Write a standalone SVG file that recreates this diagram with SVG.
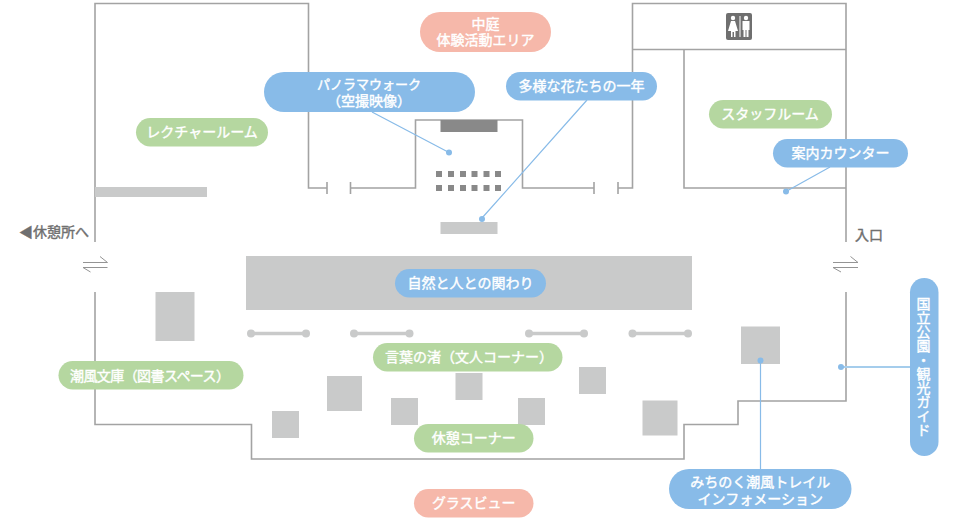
<svg xmlns="http://www.w3.org/2000/svg" width="960" height="520" viewBox="0 0 960 520">
<defs><style>
.w{fill:none;stroke:#a3a3a3;stroke-width:1.6}
.g{fill:#c9caca}
.d{fill:#898989}
.r{fill:none;stroke:#c9caca;stroke-width:3.5}
.a{fill:none;stroke:#949494;stroke-width:1}
.l{fill:none;stroke:#88bbe8;stroke-width:1.2}
.t{fill:none;stroke:#a5cdec;stroke-width:2}
.p{fill:#88bbe8}
.b{fill:#88bbe8}.n{fill:#b5d7a0}.s{fill:#f6b8aa}
text{font-family:"Noto Sans CJK JP","Liberation Sans",sans-serif;font-weight:400;font-size:14px;fill:#fff;stroke:#fff;stroke-width:.4px;text-anchor:middle}
.k{fill:#6f6f6f;stroke:#6f6f6f;text-anchor:start}
</style></defs>
<rect width="960" height="520" fill="#fff"/>
<g id="plan">
<path class="w" d="M95 242V3.500H308.500V188H327M327 182V194M350.500 182V194M350.500 188H415.500V120H522.500V188H594M594 182V194M618 182V194M618 188H632.500V3.500H846V242"/>
<path class="w" d="M632.500 49.500H846M684 49.500V188H846"/>
<path class="w" d="M95 292V424.500H251.500V459H684V424.500H738V401H846V292"/>
<rect class="g" x="95" y="187" width="112" height="10"/>
<rect class="d" x="440.500" y="120" width="57" height="12"/>
<rect class="g" x="440.500" y="222" width="57" height="12"/>
<g class="d">
<rect x="436" y="171" width="6" height="6"/><rect x="448" y="171" width="6" height="6"/><rect x="460" y="171" width="6" height="6"/><rect x="471.500" y="171" width="6" height="6"/><rect x="483.500" y="171" width="6" height="6"/><rect x="495" y="171" width="6" height="6"/>
<rect x="436" y="185" width="6" height="6"/><rect x="448" y="185" width="6" height="6"/><rect x="460" y="185" width="6" height="6"/><rect x="471.500" y="185" width="6" height="6"/><rect x="483.500" y="185" width="6" height="6"/><rect x="495" y="185" width="6" height="6"/>
</g>
<rect class="g" x="246" y="256" width="446" height="54"/>
<rect class="g" x="155.500" y="292" width="39" height="49"/>
<rect class="g" x="272" y="411" width="27" height="27"/>
<rect class="g" x="327" y="376" width="35" height="35"/>
<rect class="g" x="391" y="398" width="27" height="27"/>
<rect class="g" x="455.500" y="373" width="27" height="27"/>
<rect class="g" x="518" y="398" width="27" height="27"/>
<rect class="g" x="579" y="367" width="27" height="27"/>
<rect class="g" x="642.500" y="400.500" width="35" height="35"/>
<rect class="g" x="741" y="326.500" width="39" height="37.500"/>
<g class="g">
<circle cx="251" cy="333.500" r="4"/><circle cx="306" cy="333.500" r="4"/>
<circle cx="354" cy="333.500" r="4"/><circle cx="409.500" cy="333.500" r="4"/>
<circle cx="529" cy="333.500" r="4"/><circle cx="584" cy="333.500" r="4"/>
<circle cx="632.500" cy="333.500" r="4"/><circle cx="688" cy="333.500" r="4"/>
</g>
<path class="r" d="M251 333.500H306M354 333.500H409.500M529 333.500H584M632.500 333.500H688"/>
<path class="a" d="M83 262.500H107.500L100 256.500M107.500 267.500H83L90.500 272"/>
<path class="a" d="M833 262.500H858L850.500 256.500M858 267.500H833L841 272"/>
</g>
<g id="wc">
<rect x="726" y="13" width="26" height="27" rx="2" fill="#6f6f6f"/>
<g fill="#fff">
<circle cx="733" cy="18" r="2.200"/><path d="M731 21H735L738 31H735.500V37H734V32H732.500V37H731V31H728Z"/>
<circle cx="746" cy="18" r="2.200"/><path d="M742.500 21H749.500V30H748.500V37H746.500V30H745.500V37H743.500V30H742.500Z"/>
<rect x="739.500" y="16" width="1" height="21"/>
</g>
</g>
<g id="connectors">
<path class="l" d="M372 112L449 152.500M587 100L482 218M830 167L786 191.500M760.500 360V470"/>
<path class="t" d="M841 367H910"/>
<circle class="p" cx="449" cy="152.500" r="3"/><circle class="p" cx="482" cy="219" r="3"/><circle class="p" cx="786" cy="191.500" r="3"/><circle class="p" cx="760.500" cy="360.500" r="3"/><circle class="p" cx="841" cy="367" r="3"/>
</g>
<g id="courtyard"><rect class="s" x="420" y="12" width="131" height="40" rx="20"/><text x="485.500" y="29">中庭<tspan x="485.500" dy="16">体験活動エリア</tspan></text></g>
<g id="panorama"><rect class="b" x="264" y="72" width="211" height="40" rx="20"/><text x="369" y="89" style="font-size:13px">パノラマウォーク<tspan x="369" dy="17" style="font-size:14px">（空撮映像）</tspan></text></g>
<g id="flowers"><rect class="b" x="506" y="72" width="151" height="28.500" rx="14.250"/><text x="581.500" y="91">多様な花たちの一年</text></g>
<g id="lecture"><rect class="n" x="136" y="118" width="132" height="28.500" rx="14.250"/><text x="202" y="137">レクチャールーム</text></g>
<g id="staff"><rect class="n" x="709" y="100" width="123" height="28.500" rx="14.250"/><text x="770" y="119">スタッフルーム</text></g>
<g id="counter"><rect class="b" x="773" y="139" width="135" height="28.500" rx="14.250"/><text x="840.500" y="158">案内カウンター</text></g>
<g id="rest-left"><text class="k" x="19" y="237">◀休憩所へ</text></g>
<g id="entrance"><text class="k" x="855" y="240">入口</text></g>
<g id="nature"><rect class="b" x="395" y="269" width="151" height="28.500" rx="14.250"/><text x="470.500" y="288">自然と人との関わり</text></g>
<g id="words"><rect class="n" x="373" y="343" width="189.500" height="28.500" rx="14.250"/><text x="469" y="362">言葉の渚（文人コーナー）</text></g>
<g id="library"><rect class="n" x="58.500" y="361" width="185" height="28.500" rx="14.250"/><text x="150" y="381" textLength="160" lengthAdjust="spacing">潮風文庫（図書スペース）</text></g>
<g id="rest"><rect class="n" x="414" y="424" width="119.500" height="28.500" rx="14.250"/><text x="473.750" y="443">休憩コーナー</text></g>
<g id="glass"><rect class="s" x="414" y="489" width="119.500" height="28.500" rx="14.250"/><text x="473.750" y="508">グラスビュー</text></g>
<g id="trail"><rect class="b" x="669" y="469" width="182.500" height="40" rx="20"/><text x="760.250" y="487">みちのく潮風トレイル<tspan x="760.250" dy="17">インフォメーション</tspan></text></g>
<g id="park"><rect class="b" x="910" y="278" width="28.500" height="178" rx="14.250"/><text x="923.500" y="366.500" style="writing-mode:vertical-rl;text-anchor:middle" dominant-baseline="central">国立公園・観光ガイド</text></g>
</svg>
